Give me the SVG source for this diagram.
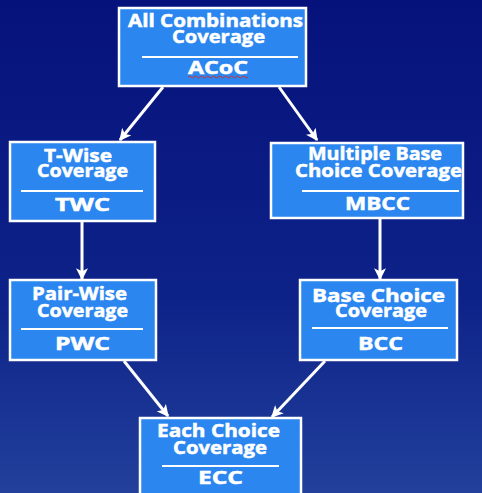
<svg xmlns="http://www.w3.org/2000/svg" width="482" height="493" viewBox="0 0 482 493">
<defs>
<linearGradient id="bg" x1="0" y1="0" x2="0" y2="1">
<stop offset="0" stop-color="#06127c"/>
<stop offset="0.6" stop-color="#0d2288"/>
<stop offset="1" stop-color="#22409c"/>
</linearGradient>
<marker id="ah" viewBox="0 0 10 10" refX="9" refY="5" markerWidth="4" markerHeight="4" orient="auto" markerUnits="strokeWidth">
<path d="M0,0 L10,5 L0,10 L2.5,5 Z" fill="#ffffff"/>
</marker>
<style>
.box{fill:#2b86f0;stroke:#ffffff;stroke-width:2.5}
.sep{stroke:#ffffff;stroke-width:2}
.t{font-family:"Open Sans","Liberation Sans",sans-serif;font-weight:700;fill:#ffffff;stroke:#ffffff;stroke-width:0.5;text-anchor:middle;font-size:18px}
.edge{stroke:#ffffff;stroke-width:3;fill:none;marker-end:url(#ah)}
</style>
</defs>
<rect x="0" y="0" width="482" height="493" fill="url(#bg)"/>
<g id="connectors">
<line class="edge" x1="163" y1="87" x2="120" y2="140"/>
<line class="edge" x1="279" y1="87" x2="317" y2="140"/>
<line class="edge" x1="82" y1="222" x2="82" y2="279"/>
<line class="edge" x1="380" y1="219" x2="380" y2="279"/>
<line class="edge" x1="124" y1="361" x2="168" y2="416"/>
<line class="edge" x1="325" y1="361" x2="272" y2="417"/>
</g>
<g id="acoc">
<rect class="box" x="119" y="8" width="187" height="78"/>
<text class="t" x="215.5" y="27" textLength="175" lengthAdjust="spacingAndGlyphs">All Combinations</text>
<text class="t" x="218.5" y="43" textLength="93" lengthAdjust="spacingAndGlyphs">Coverage</text>
<line class="sep" x1="142" y1="57" x2="298" y2="57"/>
<text class="t" x="218" y="74" textLength="60" lengthAdjust="spacingAndGlyphs">ACoC</text>
<path d="M188,77 q1.5,-2 3,0 t3,0 t3,0 t3,0 t3,0 t3,0 t3,0 t3,0 t3,0 t3,0 t3,0 t3,0 t3,0 t3,0 t3,0 t3,0 t3,0 t3,0 t3,0 t3,0" fill="none" stroke="#d23030" stroke-width="1"/>
</g>
<g id="twc">
<rect class="box" x="10" y="142" width="145" height="79"/>
<text class="t" x="78" y="162" textLength="68" lengthAdjust="spacingAndGlyphs">T-Wise</text>
<text class="t" x="82.5" y="177" textLength="91" lengthAdjust="spacingAndGlyphs">Coverage</text>
<line class="sep" x1="21" y1="191" x2="143" y2="191"/>
<text class="t" x="82.5" y="211" textLength="55" lengthAdjust="spacingAndGlyphs">TWC</text>
</g>
<g id="mbcc">
<rect class="box" x="271" y="143" width="192" height="75"/>
<text class="t" x="375" y="160" textLength="134" lengthAdjust="spacingAndGlyphs">Multiple Base</text>
<text class="t" x="378.5" y="177" textLength="167" lengthAdjust="spacingAndGlyphs">Choice Coverage</text>
<line class="sep" x1="302" y1="191" x2="459" y2="191"/>
<text class="t" x="377.5" y="210" textLength="65" lengthAdjust="spacingAndGlyphs">MBCC</text>
</g>
<g id="pwc">
<rect class="box" x="10" y="280" width="146" height="80"/>
<text class="t" x="79.5" y="300" textLength="95" lengthAdjust="spacingAndGlyphs">Pair-Wise</text>
<text class="t" x="82.5" y="317" textLength="91" lengthAdjust="spacingAndGlyphs">Coverage</text>
<line class="sep" x1="21" y1="329" x2="143" y2="329"/>
<text class="t" x="82.5" y="350" textLength="55" lengthAdjust="spacingAndGlyphs">PWC</text>
</g>
<g id="bcc">
<rect class="box" x="300" y="280" width="157" height="80"/>
<text class="t" x="378.5" y="302" font-size="19" textLength="133" lengthAdjust="spacingAndGlyphs">Base Choice</text>
<text class="t" x="381" y="317" font-size="16" textLength="92" lengthAdjust="spacingAndGlyphs">Coverage</text>
<line class="sep" x1="312" y1="328" x2="448" y2="328"/>
<text class="t" x="380.5" y="350" textLength="45" lengthAdjust="spacingAndGlyphs">BCC</text>
</g>
<g id="ecc">
<rect class="box" x="140" y="418" width="161" height="80"/>
<text class="t" x="218.5" y="437" textLength="123" lengthAdjust="spacingAndGlyphs">Each Choice</text>
<text class="t" x="220" y="454" textLength="94" lengthAdjust="spacingAndGlyphs">Coverage</text>
<line class="sep" x1="162" y1="466" x2="279" y2="466"/>
<text class="t" x="220.5" y="484" textLength="45" lengthAdjust="spacingAndGlyphs">ECC</text>
</g>
</svg>
